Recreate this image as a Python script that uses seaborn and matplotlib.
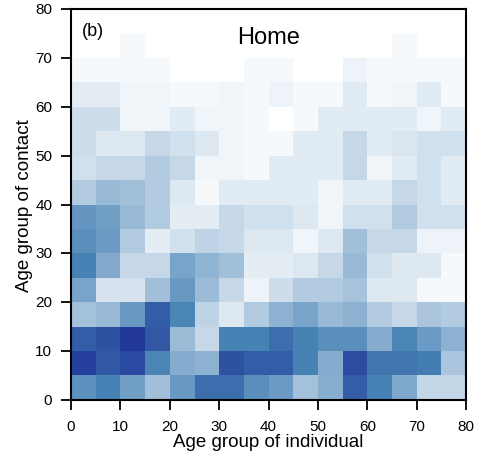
import numpy as np
import pandas as pd
import matplotlib
matplotlib.use('Agg')
import matplotlib.pyplot as plt
from matplotlib.colors import LinearSegmentedColormap
import seaborn as sns

# age groups (lower bound of each 5-year bin)
ages = list(range(0, 80, 5))

# contact intensity, rows from age 0-5 (bottom) to 75-80 (top)
row_00 = [0.62, 0.70, 0.55, 0.38, 0.58, 0.78, 0.78, 0.63, 0.57, 0.37, 0.47, 0.85, 0.70, 0.50, 0.26, 0.26]
row_05 = [0.97, 0.87, 0.93, 0.68, 0.48, 0.45, 0.90, 0.85, 0.85, 0.70, 0.48, 0.92, 0.75, 0.75, 0.72, 0.35]
row_10 = [0.85, 0.90, 1.00, 0.87, 0.40, 0.25, 0.70, 0.70, 0.78, 0.70, 0.63, 0.63, 0.48, 0.68, 0.57, 0.45]
row_15 = [0.37, 0.41, 0.58, 0.85, 0.68, 0.28, 0.15, 0.32, 0.45, 0.52, 0.41, 0.45, 0.32, 0.25, 0.35, 0.32]
row_20 = [0.52, 0.18, 0.18, 0.38, 0.58, 0.40, 0.25, 0.08, 0.22, 0.32, 0.32, 0.36, 0.15, 0.15, 0.04, 0.04]
row_25 = [0.70, 0.49, 0.25, 0.25, 0.52, 0.44, 0.38, 0.12, 0.12, 0.16, 0.25, 0.41, 0.20, 0.15, 0.15, 0.04]
row_30 = [0.63, 0.57, 0.32, 0.12, 0.20, 0.28, 0.25, 0.15, 0.15, 0.07, 0.15, 0.38, 0.25, 0.25, 0.08, 0.08]
row_35 = [0.60, 0.55, 0.41, 0.32, 0.12, 0.12, 0.25, 0.20, 0.20, 0.15, 0.07, 0.20, 0.20, 0.32, 0.20, 0.20]
row_40 = [0.32, 0.41, 0.38, 0.32, 0.15, 0.04, 0.13, 0.13, 0.13, 0.13, 0.07, 0.13, 0.13, 0.25, 0.20, 0.13]
row_45 = [0.20, 0.25, 0.25, 0.32, 0.25, 0.07, 0.07, 0.04, 0.13, 0.13, 0.13, 0.25, 0.07, 0.13, 0.20, 0.13]
row_50 = [0.22, 0.15, 0.15, 0.25, 0.20, 0.15, 0.07, 0.04, 0.04, 0.13, 0.13, 0.25, 0.13, 0.17, 0.20, 0.20]
row_55 = [0.22, 0.22, 0.07, 0.07, 0.13, 0.07, 0.07, 0.04, 0.00, 0.04, 0.13, 0.13, 0.13, 0.13, 0.07, 0.13]
row_60 = [0.12, 0.12, 0.07, 0.07, 0.04, 0.04, 0.07, 0.04, 0.08, 0.04, 0.04, 0.13, 0.04, 0.07, 0.13, 0.04]
row_65 = [0.04, 0.04, 0.04, 0.04, 0.00, 0.00, 0.00, 0.04, 0.04, 0.00, 0.00, 0.08, 0.04, 0.04, 0.04, 0.04]
row_70 = [0.00, 0.00, 0.04, 0.00, 0.00, 0.00, 0.00, 0.00, 0.00, 0.00, 0.00, 0.00, 0.00, 0.04, 0.00, 0.00]
row_75 = [0.00] * 16

rows = [row_00, row_05, row_10, row_15, row_20, row_25, row_30, row_35,
        row_40, row_45, row_50, row_55, row_60, row_65, row_70, row_75]
df = pd.DataFrame(rows, index=ages, columns=ages)

cmap = LinearSegmentedColormap.from_list(
    'home', [(0.0, '#ffffff'), (0.25, '#c6d8e8'), (0.5, '#7fa8cc'),
             (0.7, '#4682b4'), (1.0, '#22399a')])

plt.rcParams['font.family'] = ['Liberation Sans', 'DejaVu Sans']

fig = plt.figure(figsize=(4.87, 4.64), dpi=100)
ax = fig.add_axes([0.146, 0.136, 0.811, 0.842])
sns.heatmap(df, cmap=cmap, vmin=0, vmax=1, cbar=False, ax=ax)
ax.invert_yaxis()

for s in ax.spines.values():
    s.set_visible(True)
    s.set_linewidth(1.5)
    s.set_color('black')

ticks = np.arange(0, 17, 2)
labels = [str(t * 5) for t in ticks]
ax.set_xticks(ticks)
ax.set_xticklabels(labels, rotation=0, fontsize=11)
ax.set_yticks(ticks)
ax.set_yticklabels(labels, rotation=0, fontsize=11)
ax.tick_params(direction='out', length=7.5, width=1.3, pad=6)
ax.set_xlabel('Age group of individual', fontsize=13.5, labelpad=0)
ax.set_ylabel('Age group of contact', fontsize=13.5, labelpad=2)

ax.text(0.5, 0.93, 'Home', transform=ax.transAxes, ha='center', va='center', fontsize=17)
ax.text(0.028, 0.946, '(b)', transform=ax.transAxes, ha='left', va='center', fontsize=13)

plt.savefig('out.png', dpi=100)
